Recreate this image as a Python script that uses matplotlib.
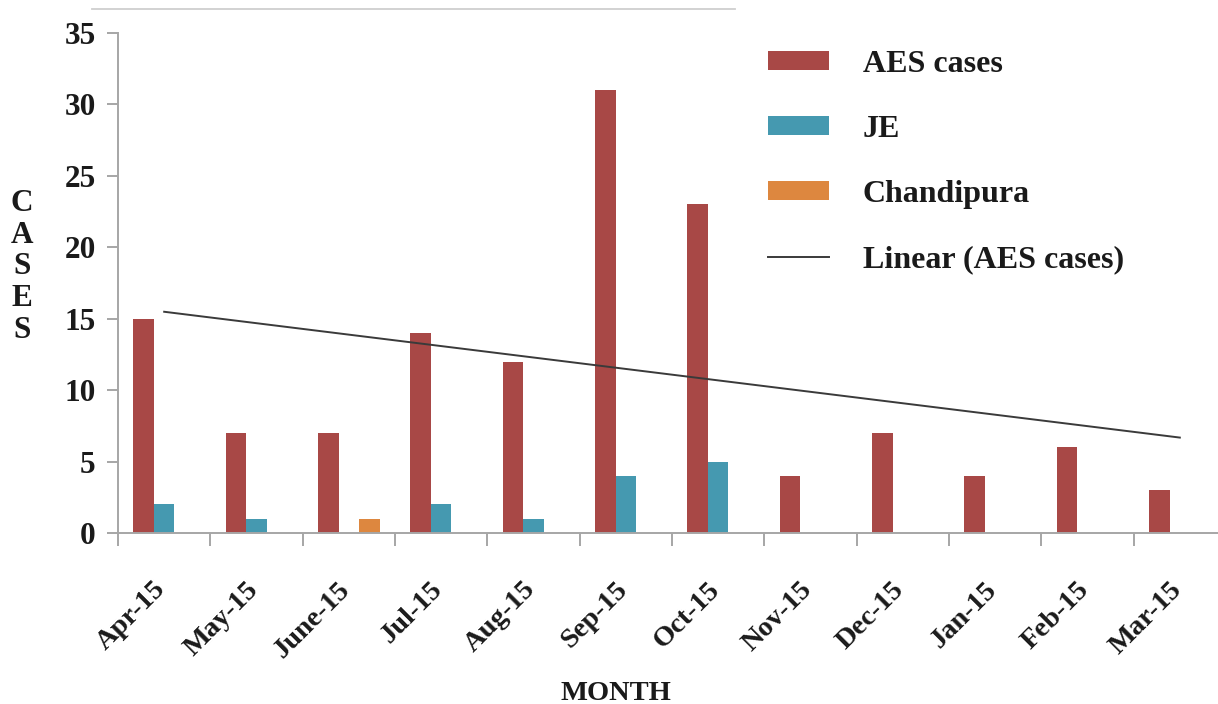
import numpy as np
import matplotlib
matplotlib.use("Agg")
import matplotlib.pyplot as plt
from matplotlib.lines import Line2D
from matplotlib.transforms import blended_transform_factory

plt.rcParams["font.family"] = ["Liberation Serif", "DejaVu Serif"]
plt.rcParams["font.weight"] = "bold"

months = ["Apr-15", "May-15", "June-15", "Jul-15", "Aug-15", "Sep-15",
          "Oct-15", "Nov-15", "Dec-15", "Jan-15", "Feb-15", "Mar-15"]
aes_cases = [15, 7, 7, 14, 12, 31, 23, 4, 7, 4, 6, 3]
je_cases = [2, 1, 0, 2, 1, 4, 5, 0, 0, 0, 0, 0]
chandipura_cases = [0, 0, 1, 0, 0, 0, 0, 0, 0, 0, 0, 0]
y_ticks = [0, 5, 10, 15, 20, 25, 30, 35]

c_aes = "#a84846"
c_je = "#4599b0"
c_chp = "#dd873f"
c_axis = "#a6a6a6"
c_text = "#1a1a1a"

W, H = 1218, 704
fig = plt.figure(figsize=(W / 100, H / 100), dpi=100)
ax = fig.add_axes([118 / W, 171 / H, 1108 / W, 500 / H])

x = np.arange(len(months))
bw = 0.222
h_aes = ax.bar(x - bw, aes_cases, bw, color=c_aes, zorder=2)
h_je = ax.bar(x, je_cases, bw, color=c_je, zorder=2)
h_chp = ax.bar(x + bw, chandipura_cases, bw, color=c_chp, zorder=2)

# least-squares trend of the AES counts
slope, intercept = np.polyfit(x, aes_cases, 1)
h_fit, = ax.plot(x, slope * x + intercept, color="#3a3a3a", lw=1.4, zorder=3)

ax.set_xlim(-0.5, len(months) - 0.5)
ax.set_ylim(0, 35)
ax.set_yticks(y_ticks)
ax.set_yticklabels([str(t) for t in y_ticks], fontsize=22.5, color=c_text)

# tick marks sit on the category boundaries
ax.set_xticks(x - 0.5)
ax.set_xticklabels([])
ax.tick_params(axis="x", length=9, width=1.4, color=c_axis)
ax.tick_params(axis="y", length=8, width=1.4, color=c_axis, pad=8)

# slanted month names under each group
lbl_tr = blended_transform_factory(ax.transData, ax.transAxes)
for xi, name in zip(x, months):
    ax.text(xi - 0.12, -0.088, name, transform=lbl_tr, rotation=45,
            rotation_mode="anchor", ha="right", va="top", fontsize=20.5,
            color=c_text)

for side in ("top", "right"):
    ax.spines[side].set_visible(False)
for side in ("left", "bottom"):
    ax.spines[side].set_color(c_axis)
    ax.spines[side].set_linewidth(1.4)

fig.text(616 / W, 1 - 693 / H, "MONTH", ha="center", va="center",
         fontsize=20.5, color=c_text)
fig.text(22 / W, 1 - 267 / H, "C\nA\nS\nE\nS", ha="center", va="center",
         fontsize=22.5, color=c_text, linespacing=1.13)

leg = ax.legend([h_aes, h_je, h_chp, h_fit],
                ["AES cases", "JE", "Chandipura", "Linear (AES cases)"],
                loc="upper left", bbox_to_anchor=(768 / W, 1 - 50 / H),
                bbox_transform=fig.transFigure, frameon=False, fontsize=23,
                borderpad=0, borderaxespad=0, handlelength=1.92,
                handleheight=0.53, handletextpad=1.05, labelspacing=1.13)
for t in leg.get_texts():
    t.set_color(c_text)

fig.add_artist(Line2D([92 / W, 735 / W], [1 - 9 / H, 1 - 9 / H],
                      color="#cfcfcf", lw=1.3))

fig.savefig("out.png", dpi=100, facecolor="white")
